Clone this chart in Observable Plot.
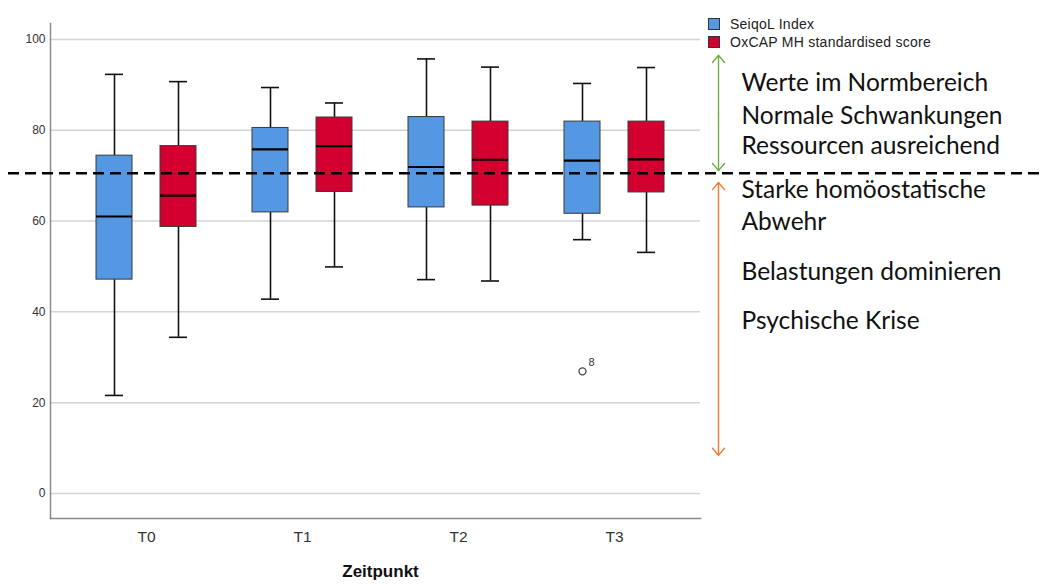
<!DOCTYPE html>
<html><head><meta charset="utf-8">
<script src="https://cdn.jsdelivr.net/npm/d3@7"></script>
<script src="https://cdn.jsdelivr.net/npm/@observablehq/plot@0.6"></script>
<style>
body{margin:0;background:#fff;}
#wrap{position:relative;width:1042px;height:585px;}
.legend{position:absolute;left:708px;top:15px;font:14px "Liberation Sans",Arial,sans-serif;letter-spacing:0.25px;color:#222;}
.legend .row{display:flex;align-items:center;height:18px;}
.legend .sw{width:10px;height:10px;border:1px solid #333;margin-right:10px;}
</style></head><body><div id="wrap"></div>
<script>
// ---- data ----
const zeitpunkte = ["T0", "T1", "T2", "T3"];
const seriesNames = ["SeiqoL Index", "OxCAP MH standardised score"];
const seiqolLow    = [21.6, 42.8, 47.1, 55.9];
const seiqolQ1     = [47.1, 61.9, 63.0, 61.6];
const seiqolMedian = [61.0, 75.8, 71.9, 73.3];
const seiqolQ3     = [74.4, 80.5, 82.9, 81.9];
const seiqolHigh   = [92.3, 89.4, 95.7, 90.3];
const oxcapLow     = [34.4, 49.9, 46.8, 53.1];
const oxcapQ1      = [58.7, 66.4, 63.4, 66.3];
const oxcapMedian  = [65.6, 76.5, 73.5, 73.6];
const oxcapQ3      = [76.5, 82.8, 81.9, 81.9];
const oxcapHigh    = [90.7, 86.0, 93.9, 93.8];
const outliers = [{t: "T3", value: 26.9, id: "8"}];
const yTicks = [0, 20, 40, 60, 80, 100];
const threshold = 70.5;
const rangeArrows = [{from: 71.1, to: 96.5, color: "#70AD47"}, {from: 68.5, to: 8.4, color: "#ED7D31"}];
const noteLabels = ["Werte im Normbereich", "Normale Schwankungen", "Ressourcen ausreichend",
  "Starke homöostatische", "Abwehr", "Belastungen dominieren", "Psychische Krise"];
const noteValues = [90.3, 83.0, 76.4, 66.7, 59.7, 48.7, 37.9];

// ---- build tables ----
const seriesFill = ["#5497e2", "#d3002f"];
const seriesOffset = [-32, 32];
const tables = [
  zeitpunkte.map((t, i) => ({t, low: seiqolLow[i], q1: seiqolQ1[i], med: seiqolMedian[i], q3: seiqolQ3[i], high: seiqolHigh[i]})),
  zeitpunkte.map((t, i) => ({t, low: oxcapLow[i], q1: oxcapQ1[i], med: oxcapMedian[i], q3: oxcapQ3[i], high: oxcapHigh[i]}))
];
const notes = noteLabels.map((label, i) => ({label, y: noteValues[i]}));
const anchorCat = zeitpunkte[zeitpunkte.length - 1];
const arrowRows = rangeArrows.flatMap(a => {
  const mid = (a.from + a.to) / 2;
  return [{y1: mid, y2: a.from, color: a.color}, {y1: mid, y2: a.to, color: a.color}];
});

const marks = [
  Plot.gridY(yTicks, {stroke: "#d4d4d4", strokeOpacity: 1, strokeWidth: 1.5}),
  Plot.frame({anchor: "left", stroke: "#8a8a8a", strokeWidth: 1.5}),
  Plot.frame({anchor: "bottom", stroke: "#8a8a8a", strokeWidth: 1.5}),
  Plot.axisY(yTicks, {tickSize: 0, tickPadding: 5, label: null, fontSize: 12, color: "#333", fontFamily: "Liberation Sans, Arial, sans-serif"}),
  Plot.axisX({tickSize: 0, tickPadding: 12, label: null, fontSize: 15.5, color: "#333", fontFamily: "Liberation Sans, Arial, sans-serif"}),
  Plot.text(["Zeitpunkt"], {frameAnchor: "bottom", dy: 58, dx: 5, fontSize: 17, fontWeight: "bold", fill: "#111", fontFamily: "Liberation Sans, Arial, sans-serif"})
];
tables.forEach((rows, k) => {
  const dx = seriesOffset[k];
  marks.push(
    Plot.ruleX(rows, {x: "t", y1: "low", y2: "q1", dx, stroke: "#111", strokeWidth: 1.6}),
    Plot.ruleX(rows, {x: "t", y1: "q3", y2: "high", dx, stroke: "#111", strokeWidth: 1.6}),
    Plot.tickY(rows, {x: "t", y: "low", dx, insetLeft: 69, insetRight: 69, stroke: "#111", strokeWidth: 1.6}),
    Plot.tickY(rows, {x: "t", y: "high", dx, insetLeft: 69, insetRight: 69, stroke: "#111", strokeWidth: 1.6}),
    Plot.barY(rows, {x: "t", y1: "q1", y2: "q3", dx, insetLeft: 60, insetRight: 60, fill: seriesFill[k], stroke: "#3a3a3a", strokeWidth: 1}),
    Plot.tickY(rows, {x: "t", y: "med", dx, insetLeft: 60, insetRight: 60, stroke: "#000", strokeWidth: 2.2})
  );
});
marks.push(
  Plot.dot(outliers, {x: "t", y: "value", dx: seriesOffset[0], r: 3.5, stroke: "#444", strokeWidth: 1.3, fill: "white"}),
  Plot.text(outliers, {x: "t", y: "value", text: "id", dx: seriesOffset[0] + 9, dy: -9, fontSize: 11, fill: "#333", fontFamily: "Liberation Sans, Arial, sans-serif"}),
  Plot.ruleY([threshold], {stroke: "#000", strokeWidth: 2.5, strokeDasharray: "11,6", insetLeft: -42, insetRight: -342}),
  Plot.arrow(arrowRows, {x1: () => anchorCat, x2: () => anchorCat, y1: "y1", y2: "y2", dx: 104, stroke: "color", strokeWidth: 1.4, headLength: 10, headAngle: 80}),
  Plot.text(notes, {y: "y", text: "label", frameAnchor: "right", textAnchor: "start", dx: 41, fontSize: 24.5, fill: "#111", fontFamily: "Lato, 'Open Sans', sans-serif"})
);

const chart = Plot.plot({
  width: 1042,
  height: 585,
  marginLeft: 50,
  marginRight: 342,
  marginTop: 23,
  marginBottom: 67,
  style: {background: "#fff", overflow: "visible"},
  x: {type: "band", domain: zeitpunkte, range: [68, 692], padding: 0},
  y: {domain: [-5.5, 103.5]},
  color: {type: "identity"},
  marks
});
const wrap = document.getElementById("wrap");
wrap.appendChild(chart);

const legend = document.createElement("div");
legend.className = "legend";
seriesNames.forEach((name, k) => {
  const row = document.createElement("div");
  row.className = "row";
  const sw = document.createElement("span");
  sw.className = "sw";
  sw.style.background = seriesFill[k];
  const label = document.createElement("span");
  label.textContent = name;
  row.appendChild(sw);
  row.appendChild(label);
  legend.appendChild(row);
});
wrap.appendChild(legend);
</script></body></html>
